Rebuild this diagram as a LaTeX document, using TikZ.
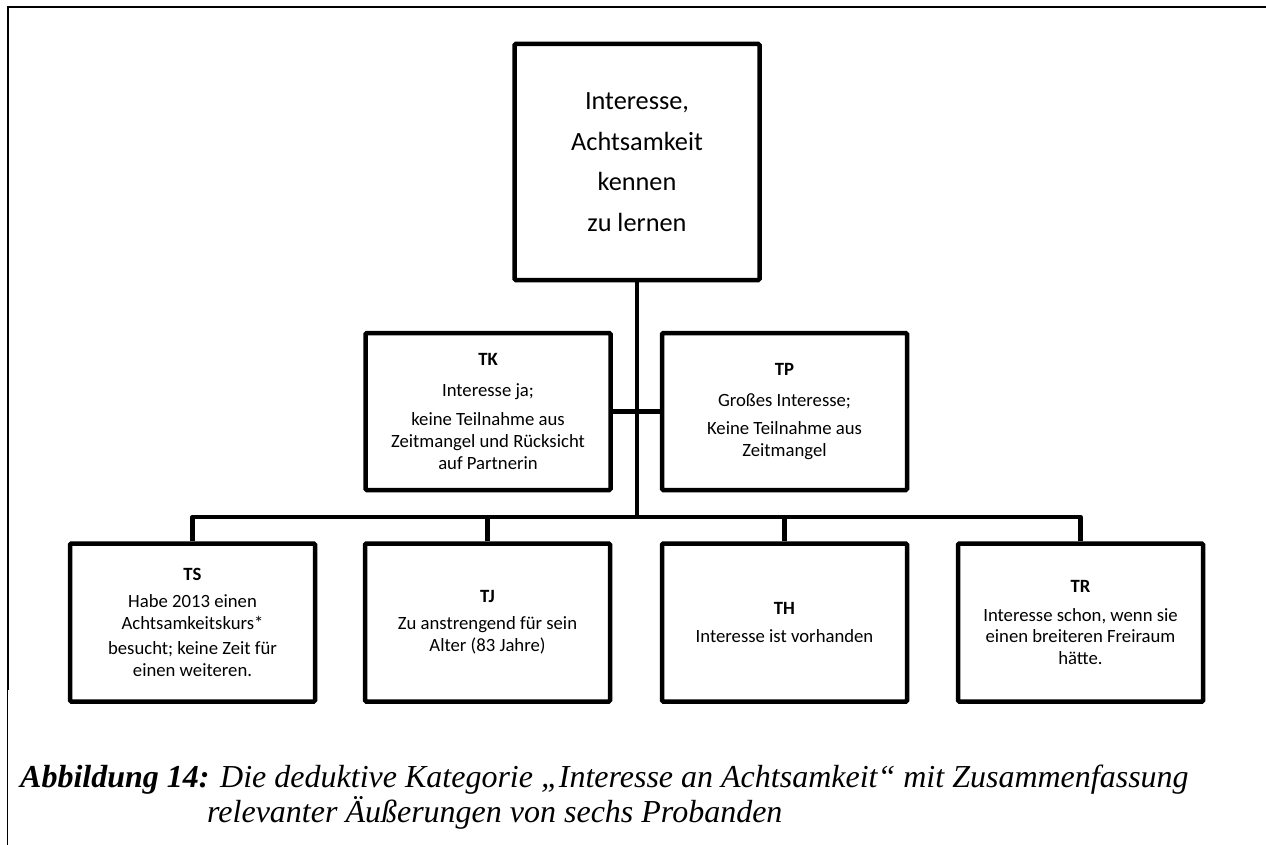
\documentclass[tikz,border=0pt]{standalone}
\usepackage{fontspec}
\setmainfont{Carlito}
\newfontfamily\capfont{Liberation Serif}

\begin{document}
\begin{tikzpicture}[x=1pt,y=-1pt,
  box/.style={draw, line width=4.5pt, rounded corners=1.2pt, inner sep=0pt,
    align=center, minimum width=245pt, minimum height=158pt,
    font=\fontsize{18.7}{21.8}\selectfont},
  topbox/.style={box, minimum height=236pt, font=\fontsize{26.3}{40.5}\selectfont},
  conn/.style={line width=4.5pt, line join=round},
  frame/.style={line width=2pt},
  caption/.style={anchor=base west, inner sep=0pt,
    font=\capfont\fontsize{32}{35}\selectfont\itshape}]
\useasboundingbox (0,0) rectangle (1266,845);

% page frame (top and left edges)
\draw[frame] (7.6,690) -- (7.6,7.5) -- (1266,7.5);
\draw[line width=1.2pt] (7.6,689) -- (7.6,845);

% category box
\node[topbox] (top) at (637,162) {Interesse,\\ Achtsamkeit\\ kennen\\ zu lernen};

% middle row
\node[box, minimum height=157pt] (tk) at (488,411.5)
  {\textbf{TK}\\[9pt] Interesse ja;\\[7pt] keine Teilnahme aus\\ Zeitmangel und Rücksicht\\ auf Partnerin};
\node[box, minimum height=157pt] (tp) at (784.5,411.5)
  {\textbf{TP}\\[9pt] Großes Interesse;\\[7pt] Keine Teilnahme aus\\ Zeitmangel};

% bottom row
\node[box] (ts) at (192.5,622.5)
  {\textbf{TS}\\[5pt] Habe 2013 einen\\ Achtsamkeitskurs*\\[4pt] besucht; keine Zeit für\\ einen weiteren.};
\node[box] (tj) at (487.5,622.5)
  {\textbf{TJ}\\[5pt] Zu anstrengend für sein\\ Alter (83 Jahre)};
\node[box] (th) at (784.5,622.5)
  {\textbf{TH}\\[6pt] Interesse ist vorhanden};
\node[box] (tr) at (1080.5,622.5)
  {\textbf{TR}\\[7pt] Interesse schon, wenn sie\\ einen breiteren Freiraum\\ hätte.};

% connectors
\coordinate (bus) at (637,517);
\draw[conn] (top.south) -- (top.south |- bus);
\draw[conn] (tk.east) -- (tp.west);
\draw[conn] (ts.north) |- (tr.north |- bus) -- (tr.north);
\draw[conn] (tj.north) -- (tj.north |- bus);
\draw[conn] (th.north) -- (th.north |- bus);

% caption
\node[caption] (cap1) at (20,787)
  {\textbf{Abbildung 14:} Die deduktive Kategorie „Interesse an Achtsamkeit“ mit Zusammenfassung};
\node[caption] (cap2) at (207,822)
  {relevanter Äußerungen von sechs Probanden};
\end{tikzpicture}
\end{document}
